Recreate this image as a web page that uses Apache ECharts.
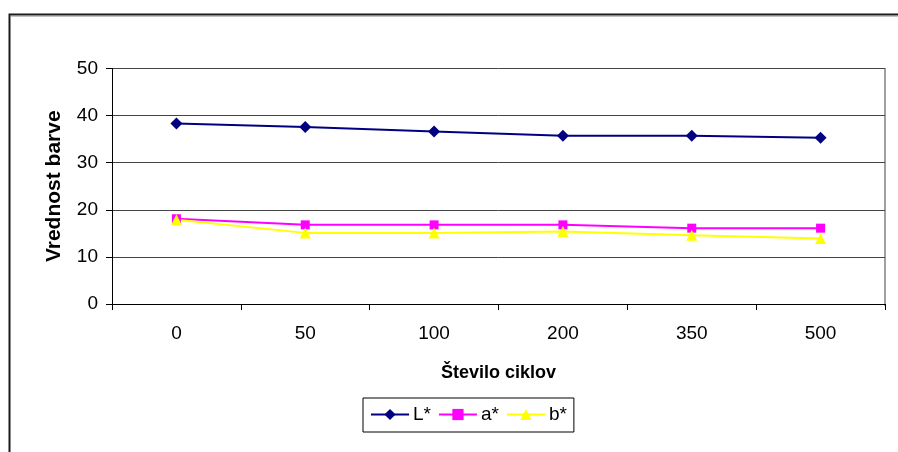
<!DOCTYPE html>
<html>
<head>
<meta charset="utf-8">
<style>
  html, body { margin: 0; padding: 0; background: #fff; }
  #chart { width: 898px; height: 452px; }
</style>
<script src="https://cdn.jsdelivr.net/npm/echarts@6/dist/echarts.min.js"></script>
</head>
<body>
<div id="chart"></div>
<script>
// Number of cycles (category axis)
var cycles = ['0', '50', '100', '200', '350', '500'];

// Colour values per cycle count
var lStar = [38.3, 37.6, 36.6, 35.7, 35.7, 35.3];
var aStar = [18.1, 16.8, 16.8, 16.8, 16.1, 16.1];
var bStar = [17.9, 15.1, 15.1, 15.4, 14.6, 13.9];

var yTicks = { min: 0, max: 50, interval: 10 };

var FONT = '"Liberation Sans", Arial, sans-serif';

var chart = echarts.init(document.getElementById('chart'), null, { renderer: 'canvas' });

chart.setOption({
  animation: false,
  backgroundColor: '#ffffff',
  grid: { left: 112, right: 13, top: 68.5, bottom: 148, containLabel: false },
  xAxis: {
    type: 'category',
    data: cycles,
    boundaryGap: true,
    name: 'Število ciklov',
    nameLocation: 'middle',
    nameGap: 60,
    nameTextStyle: { fontFamily: FONT, fontSize: 18, fontWeight: 'bold', color: '#000' },
    axisLine: { lineStyle: { color: '#000', width: 1 } },
    axisTick: { show: true, inside: false, length: 6, lineStyle: { color: '#000' } },
    axisLabel: { fontFamily: FONT, fontSize: 19, color: '#000', margin: 20 },
    splitLine: { show: false }
  },
  yAxis: {
    type: 'value',
    min: yTicks.min,
    max: yTicks.max,
    interval: yTicks.interval,
    name: 'Vrednost barve',
    nameLocation: 'middle',
    nameGap: 47,
    nameRotate: 90,
    nameTextStyle: { fontFamily: FONT, fontSize: 21, fontWeight: 'bold', color: '#000' },
    axisLine: { show: true, lineStyle: { color: '#000', width: 1 } },
    axisTick: { show: true, inside: false, length: 6, lineStyle: { color: '#000' } },
    axisLabel: { fontFamily: FONT, fontSize: 19, color: '#000', margin: 14 },
    splitLine: { show: true, lineStyle: { color: '#444', width: 1 } }
  },
  legend: {
    left: 363,
    top: 398,
    orient: 'horizontal',
    itemWidth: 38,
    itemHeight: 14,
    itemGap: 7,
    padding: [7, 7, 8, 7],
    borderColor: '#000',
    borderWidth: 1,
    backgroundColor: '#fff',
    textStyle: { fontFamily: FONT, fontSize: 19, color: '#000', padding: [0, 0, 0, -1] },
    data: ['L*', 'a*', 'b*']
  },
  series: [
    {
      name: 'L*',
      type: 'line',
      data: lStar,
      symbol: 'diamond',
      symbolSize: 12,
      color: '#000080',
      lineStyle: { color: '#000080', width: 2 },
      itemStyle: { color: '#000080' }
    },
    {
      name: 'a*',
      type: 'line',
      data: aStar,
      symbol: 'rect',
      symbolSize: 9,
      color: '#ff00ff',
      lineStyle: { color: '#ff00ff', width: 2 },
      itemStyle: { color: '#ff00ff' }
    },
    {
      name: 'b*',
      type: 'line',
      data: bStar,
      symbol: 'triangle',
      symbolSize: 11,
      color: '#ffff00',
      lineStyle: { color: '#ffff00', width: 2 },
      itemStyle: { color: '#ffff00' }
    }
  ],
  graphic: [
    // chart frame (top and left edges visible)
    {
      type: 'polyline',
      shape: { points: [[9.5, 460], [9.5, 14.5], [900, 14.5]] },
      style: { stroke: '#1a1a1a', lineWidth: 2, fill: null },
      silent: true
    },
    {
      type: 'line',
      shape: { x1: 10, y1: 16, x2: 900, y2: 16 },
      style: { stroke: '#888', lineWidth: 1 },
      silent: true
    },
    // right edge of the plot area
    {
      type: 'line',
      shape: { x1: 885, y1: 68, x2: 885, y2: 306 },
      style: { stroke: '#a0a0a0', lineWidth: 2 },
      silent: true
    }
  ]
});
</script>
</body>
</html>
